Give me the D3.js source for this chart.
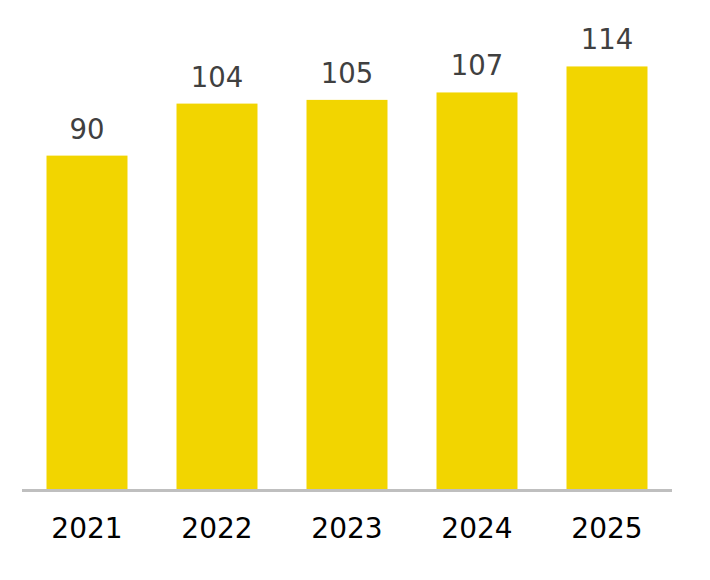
<!DOCTYPE html>
<html>
<head>
<meta charset="utf-8">
<script src="https://cdn.jsdelivr.net/npm/d3@7"></script>
<style>
body { margin:0; background:#fff; }
text { font-family: Verdana, "DejaVu Sans", sans-serif; }
</style>
</head>
<body>
<script>
var years = ["2021","2022","2023","2024","2025"];
var values = [90,104,105,107,114];

var width = 710;
var height = 580;

var svg = d3.select("body").append("svg").attr("width",width).attr("height",height);

var x = d3.scaleBand().domain(years).range([22,672]).paddingInner(0.377).paddingOuter(0.1885);
var y = d3.scaleLinear().domain([0,130]).range([490,7]);

svg.selectAll("rect.bar")
	.data(values)
	.enter().append("rect")
		.attr("class","bar")
		.attr("x",function(d,i){ return x(years[i]); })
		.attr("y",function(d){ return y(d); })
		.attr("width",x.bandwidth())
		.attr("height",function(d){ return y(0)-y(d); })
		.attr("fill","#f2d500");

// axis line
svg.append("line")
	.attr("x1",22).attr("x2",672)
	.attr("y1",y(0)+0.5).attr("y2",y(0)+0.5)
	.attr("stroke","#bfbfbf").attr("stroke-width",3);

// value labels
svg.selectAll("text.val")
	.data(values)
	.enter().append("text")
	.attr("class","val")
	.attr("x",function(d,i){ return x(years[i])+x.bandwidth()/2; })
	.attr("y",function(d){ return y(d)-17; })
	.attr("text-anchor","middle")
	.attr("font-size",27.5)
	.attr("fill","#404040")
	.text(function(d){ return d; });

// year labels
svg.selectAll("text.yr")
	.data(years)
	.enter().append("text")
	.attr("class","yr")
	.attr("x",function(d){ return x(d)+x.bandwidth()/2; })
	.attr("y",538)
	.attr("text-anchor","middle")
	.attr("font-size",28)
	.attr("fill","#000")
	.text(function(d){ return d; });
</script>
</body>
</html>
